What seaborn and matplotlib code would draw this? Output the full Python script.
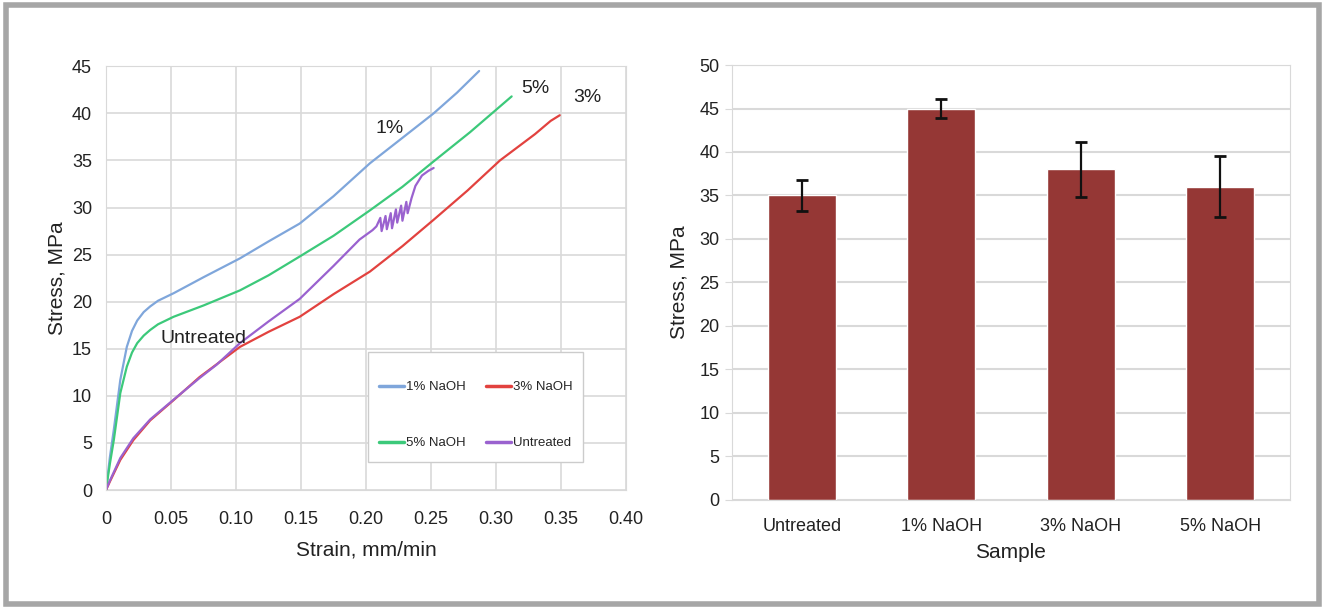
import numpy as np
import pandas as pd
import matplotlib
matplotlib.use("Agg")
import matplotlib.pyplot as plt
from matplotlib.patches import Rectangle
import seaborn as sns

# stress-strain curves
strain_1 = [0, 0.003, 0.006, 0.011, 0.016, 0.020, 0.024, 0.029, 0.034, 0.040, 0.052,
            0.075, 0.103, 0.125, 0.149, 0.175, 0.203, 0.228, 0.252, 0.270, 0.287]
stress_1 = [0, 3.5, 6.4, 11.7, 15.2, 16.9, 18.0, 18.9, 19.5, 20.1, 20.9,
            22.6, 24.6, 26.4, 28.3, 31.2, 34.7, 37.4, 40.0, 42.2, 44.5]

strain_5 = [0, 0.003, 0.006, 0.011, 0.016, 0.020, 0.024, 0.029, 0.034, 0.040, 0.052,
            0.075, 0.103, 0.125, 0.149, 0.175, 0.203, 0.228, 0.252, 0.280, 0.312]
stress_5 = [0, 2.8, 5.3, 10.3, 13.1, 14.6, 15.6, 16.4, 17.0, 17.6, 18.4,
            19.6, 21.2, 22.8, 24.8, 27.0, 29.7, 32.2, 34.9, 38.0, 41.8]

strain_3 = [0, 0.003, 0.011, 0.021, 0.034, 0.052, 0.072, 0.103, 0.125, 0.149, 0.175,
            0.203, 0.228, 0.252, 0.278, 0.303, 0.330, 0.342, 0.349]
stress_3 = [0, 0.9, 3.2, 5.3, 7.4, 9.55, 12.0, 15.2, 16.8, 18.4, 20.8,
            23.2, 25.9, 28.7, 31.8, 35.0, 37.8, 39.2, 39.8]

strain_u = [0, 0.003, 0.011, 0.021, 0.034, 0.052, 0.072, 0.085, 0.103, 0.125, 0.149,
            0.175, 0.195, 0.205, 0.208, 0.211, 0.212, 0.215, 0.216, 0.219, 0.220,
            0.223, 0.224, 0.227, 0.228, 0.231, 0.232, 0.235, 0.238, 0.243, 0.248, 0.252]
stress_u = [0, 1.0, 3.4, 5.5, 7.5, 9.6, 11.9, 13.3, 15.6, 17.9, 20.3,
            23.8, 26.6, 27.6, 28.0, 28.9, 27.5, 29.1, 27.7, 29.4, 27.8,
            29.8, 28.4, 30.2, 28.6, 30.6, 29.4, 31.0, 32.3, 33.4, 33.9, 34.2]

# right panel
samples = ["Untreated", "1% NaOH", "3% NaOH", "5% NaOH"]
mean_stress = [35.0, 45.0, 38.0, 36.0]
err_stress = [1.8, 1.1, 3.2, 3.5]

colors = {"1% NaOH": "#7fa6db", "3% NaOH": "#e2423f",
          "5% NaOH": "#3cc97a", "Untreated": "#9a62cf"}
legend_order = ["1% NaOH", "5% NaOH", "3% NaOH", "Untreated"]

curves = pd.concat([
    pd.DataFrame({"strain": strain_1, "stress": stress_1, "sample": "1% NaOH"}),
    pd.DataFrame({"strain": strain_5, "stress": stress_5, "sample": "5% NaOH"}),
    pd.DataFrame({"strain": strain_3, "stress": stress_3, "sample": "3% NaOH"}),
    pd.DataFrame({"strain": strain_u, "stress": stress_u, "sample": "Untreated"}),
], ignore_index=True)
bars = pd.DataFrame({"sample": samples, "stress": mean_stress})

sns.set_style("white")
plt.rcParams["font.family"] = ["Liberation Sans", "DejaVu Sans"]

fig = plt.figure(figsize=(13.25, 6.08), dpi=100)
ax1 = fig.add_axes([0.080, 0.194, 0.3925, 0.697])
ax2 = fig.add_axes([0.5525, 0.178, 0.421, 0.715])

grid_c = "#d9d9d9"
text_c = "#222222"

# ---- left: stress-strain ----
sns.lineplot(data=curves, x="strain", y="stress", hue="sample", palette=colors,
             sort=False, estimator=None, linewidth=1.6, legend=False, ax=ax1)
ax1.set_xlim(0, 0.40)
ax1.set_ylim(0, 45)
ax1.set_xticks(np.arange(0, 0.41, 0.05))
ax1.set_xticklabels(["0", "0.05", "0.10", "0.15", "0.20", "0.25", "0.30", "0.35", "0.40"])
ax1.set_yticks(np.arange(0, 46, 5))
ax1.grid(True, color=grid_c, linewidth=1.2)
for s in ax1.spines.values():
    s.set_color(grid_c)
ax1.tick_params(axis="x", labelsize=13, colors=grid_c, labelcolor=text_c, length=4, pad=11)
ax1.tick_params(axis="y", labelsize=13, colors=grid_c, labelcolor=text_c, length=4, pad=6)
ax1.set_xlabel("Strain, mm/min", fontsize=15, color=text_c, labelpad=9)
ax1.set_ylabel("Stress, MPa", fontsize=15, color=text_c, labelpad=4)

# legend box drawn by hand so its padding can differ vertically / horizontally
ax1.add_patch(Rectangle((0.504, 0.066), 0.4135, 0.259, transform=ax1.transAxes,
                        facecolor="white", edgecolor="#cccccc", linewidth=1.0, zorder=4))
handles = [plt.Line2D([], [], color=colors[k], linewidth=2.5) for k in legend_order]
leg = ax1.legend(handles, legend_order, ncol=2, loc="center",
                 bbox_to_anchor=(0.7108, 0.1765), fontsize=9.5,
                 labelspacing=3.3, handlelength=1.9, handletextpad=0.15,
                 columnspacing=1.5, frameon=False, borderpad=0)
leg.set_zorder(5)

ax1.text(0.218, 38.4, "1%", fontsize=14, color=text_c, ha="center", va="center")
ax1.text(0.330, 42.6, "5%", fontsize=14, color=text_c, ha="center", va="center")
ax1.text(0.370, 41.7, "3%", fontsize=14, color=text_c, ha="center", va="center")
ax1.text(0.075, 16.1, "Untreated", fontsize=14, color=text_c, ha="center", va="center")

# ---- right: mean stress bars ----
sns.barplot(data=bars, x="sample", y="stress", color="#953735", saturation=1,
            width=0.49, errorbar=None, ax=ax2)
ax2.errorbar(range(len(samples)), mean_stress, yerr=err_stress, fmt="none",
             ecolor="#111111", elinewidth=1.6, capsize=4, capthick=2)
ax2.set_xlim(-0.5, 3.5)
ax2.set_ylim(0, 50)
ax2.set_yticks(np.arange(0, 51, 5))
ax2.yaxis.grid(True, color=grid_c, linewidth=1.5)
ax2.set_axisbelow(True)
for s in ax2.spines.values():
    s.set_color(grid_c)
ax2.set_xticks([0.5, 1.5, 2.5], minor=True)
ax2.tick_params(axis="x", which="major", length=0, labelsize=13, labelcolor=text_c, pad=13)
ax2.tick_params(axis="x", which="minor", length=5, color=grid_c)
ax2.tick_params(axis="y", labelsize=13, labelcolor=text_c, colors=grid_c, length=5, left=True, pad=4)
ax2.set_xlabel("Sample", fontsize=15, color=text_c, labelpad=6)
ax2.set_ylabel("Stress, MPa", fontsize=15, color=text_c, labelpad=8)

# outer gray frame
fig.patches.append(Rectangle((0.0045, 0.006), 0.991, 0.986, transform=fig.transFigure,
                             fill=False, edgecolor="#a6a6a6", linewidth=4))

fig.savefig("out.png", dpi=100, facecolor="white")
